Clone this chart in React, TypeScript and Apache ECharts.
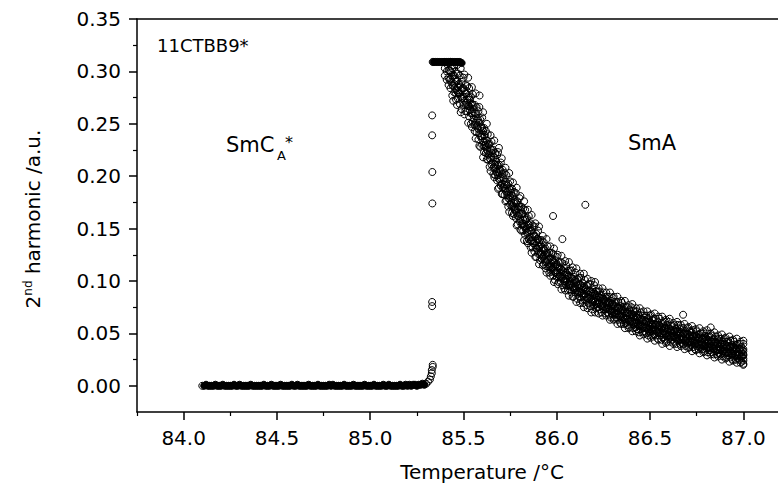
import { useEffect, useRef } from "react";
import * as echarts from "echarts";

// ---------- tick values ----------
const xMajorTicks = [84.0, 84.5, 85.0, 85.5, 86.0, 86.5, 87.0];
const xMinorTicks = [83.75, 84.25, 84.75, 85.25, 85.75, 86.25, 86.75, 87.25];
const yMajorTicks = [0, 0.05, 0.1, 0.15, 0.2, 0.25, 0.3, 0.35];
const yMinorTicks = [0.025, 0.075, 0.125, 0.175, 0.225, 0.275, 0.325];

// ---------- SmCA* phase (flat at zero) ----------
const flatTemps = [
  84.10, 84.11, 84.12, 84.13, 84.14, 84.15, 84.16, 84.17, 84.18, 84.19,
  84.20, 84.21, 84.22, 84.23, 84.24, 84.25, 84.26, 84.27, 84.28, 84.29,
  84.30, 84.31, 84.32, 84.33, 84.34, 84.35, 84.36, 84.37, 84.38, 84.39,
  84.40, 84.41, 84.42, 84.43, 84.44, 84.45, 84.46, 84.47, 84.48, 84.49,
  84.50, 84.51, 84.52, 84.53, 84.54, 84.55, 84.56, 84.57, 84.58, 84.59,
  84.60, 84.61, 84.62, 84.63, 84.64, 84.65, 84.66, 84.67, 84.68, 84.69,
  84.70, 84.71, 84.72, 84.73, 84.74, 84.75, 84.76, 84.77, 84.78, 84.79,
  84.80, 84.81, 84.82, 84.83, 84.84, 84.85, 84.86, 84.87, 84.88, 84.89,
  84.90, 84.91, 84.92, 84.93, 84.94, 84.95, 84.96, 84.97, 84.98, 84.99,
  85.00, 85.01, 85.02, 85.03, 85.04, 85.05, 85.06, 85.07, 85.08, 85.09,
  85.10, 85.11, 85.12, 85.13, 85.14, 85.15, 85.16, 85.17, 85.18, 85.19,
  85.20, 85.21, 85.22, 85.23, 85.24, 85.25, 85.26, 85.27, 85.28, 85.29,
];
const flatValues = [
  0.000, 0.000, 0.001, 0.000, 0.000, 0.000, 0.000, 0.001, 0.000, 0.000,
  0.000, 0.001, 0.000, 0.000, 0.000, 0.000, 0.000, 0.001, 0.000, 0.000,
  0.001, 0.000, 0.000, 0.000, 0.000, 0.000, 0.001, 0.000, 0.000, 0.000,
  0.000, 0.000, 0.000, 0.001, 0.000, 0.000, 0.000, 0.001, 0.000, 0.000,
  0.000, 0.000, 0.001, 0.000, 0.000, 0.000, 0.000, 0.000, 0.001, 0.000,
  0.000, 0.001, 0.000, 0.000, 0.000, 0.000, 0.000, 0.001, 0.000, 0.000,
  0.000, 0.000, 0.001, 0.000, 0.000, 0.000, 0.000, 0.000, 0.001, 0.000,
  0.001, 0.000, 0.000, 0.000, 0.000, 0.000, 0.001, 0.000, 0.000, 0.000,
  0.000, 0.001, 0.000, 0.000, 0.000, 0.000, 0.000, 0.001, 0.000, 0.000,
  0.000, 0.000, 0.001, 0.000, 0.000, 0.000, 0.000, 0.001, 0.000, 0.000,
  0.001, 0.000, 0.000, 0.000, 0.000, 0.000, 0.001, 0.000, 0.000, 0.001,
  0.000, 0.001, 0.000, 0.001, 0.001, 0.000, 0.001, 0.001, 0.002, 0.001,
];

// ---------- transition region ----------
const riseTemps = [85.30, 85.31, 85.32, 85.325, 85.33, 85.33, 85.335, 85.335];
const riseValues = [0.002, 0.004, 0.006, 0.009, 0.012, 0.015, 0.018, 0.020];

const jumpTemps = [85.332, 85.332, 85.333, 85.333, 85.332, 85.332];
const jumpValues = [0.258, 0.239, 0.204, 0.174, 0.080, 0.076];

// ---------- saturated plateau ----------
const satTemps = [
  85.335, 85.34, 85.35, 85.36, 85.37, 85.38, 85.39, 85.40, 85.41, 85.42,
  85.43, 85.44, 85.45, 85.46, 85.47, 85.48, 85.49,
];
const satValues = [
  0.309, 0.309, 0.309, 0.309, 0.309, 0.309, 0.309, 0.309, 0.309, 0.309,
  0.309, 0.309, 0.309, 0.309, 0.309, 0.309, 0.308,
];

// ---------- SmA phase decay: [temperature, readings...] ----------
const smaRows = [
  [85.40, 0.309, 0.303, 0.296], [85.41, 0.307, 0.300, 0.292],
  [85.42, 0.308, 0.301, 0.294, 0.287], [85.43, 0.309, 0.300, 0.293, 0.284],
  [85.44, 0.303, 0.295, 0.287, 0.277], [85.45, 0.306, 0.296, 0.288, 0.280],
  [85.46, 0.298, 0.290, 0.279, 0.273], [85.47, 0.298, 0.285, 0.280, 0.274],
  [85.48, 0.296, 0.287, 0.279, 0.269], [85.49, 0.290, 0.282, 0.274, 0.264],
  [85.50, 0.294, 0.284, 0.276, 0.268], [85.51, 0.287, 0.279, 0.268, 0.262],
  [85.52, 0.286, 0.273, 0.268, 0.262], [85.53, 0.284, 0.275, 0.267, 0.257],
  [85.54, 0.276, 0.268, 0.260, 0.250], [85.55, 0.278, 0.268, 0.260, 0.252],
  [85.56, 0.268, 0.260, 0.249, 0.243], [85.57, 0.266, 0.253, 0.248, 0.242],
  [85.58, 0.262, 0.253, 0.245, 0.235], [85.59, 0.254, 0.246, 0.238, 0.228],
  [85.60, 0.256, 0.246, 0.238, 0.230], [85.61, 0.246, 0.239, 0.229, 0.223],
  [85.62, 0.243, 0.232, 0.228, 0.222], [85.63, 0.240, 0.231, 0.224, 0.216],
  [85.64, 0.231, 0.224, 0.217, 0.209], [85.65, 0.233, 0.225, 0.218, 0.211],
  [85.66, 0.225, 0.218, 0.208, 0.202], [85.67, 0.222, 0.211, 0.207, 0.201],
  [85.68, 0.220, 0.211, 0.204, 0.196], [85.69, 0.211, 0.204, 0.197, 0.189],
  [85.70, 0.213, 0.205, 0.198, 0.191], [85.71, 0.206, 0.199, 0.189, 0.183],
  [85.72, 0.203, 0.192, 0.188, 0.182], [85.73, 0.201, 0.192, 0.185, 0.177],
  [85.74, 0.193, 0.186, 0.179, 0.171], [85.75, 0.195, 0.187, 0.180, 0.173],
  [85.76, 0.188, 0.181, 0.171, 0.165], [85.77, 0.185, 0.174, 0.170, 0.164],
  [85.78, 0.184, 0.175, 0.168, 0.160], [85.79, 0.176, 0.169, 0.162, 0.154],
  [85.80, 0.179, 0.171, 0.164, 0.157], [85.81, 0.171, 0.164, 0.154, 0.148],
  [85.82, 0.169, 0.158, 0.154, 0.148], [85.83, 0.168, 0.159, 0.152, 0.144],
  [85.84, 0.160, 0.153, 0.146, 0.138], [85.85, 0.162, 0.154, 0.147, 0.140],
  [85.86, 0.155, 0.148, 0.138, 0.132], [85.87, 0.153, 0.142, 0.138, 0.132],
  [85.88, 0.152, 0.143, 0.136, 0.128], [85.89, 0.145, 0.138, 0.131, 0.123],
  [85.90, 0.148, 0.140, 0.133, 0.126], [85.91, 0.139, 0.133, 0.125, 0.120],
  [85.92, 0.139, 0.129, 0.125, 0.121], [85.93, 0.137, 0.130, 0.124, 0.116],
  [85.94, 0.131, 0.125, 0.119, 0.112], [85.95, 0.133, 0.126, 0.120, 0.114],
  [85.96, 0.127, 0.121, 0.113, 0.108], [85.97, 0.127, 0.117, 0.113, 0.109],
  [85.98, 0.126, 0.119, 0.113, 0.105], [85.99, 0.120, 0.114, 0.108, 0.101],
  [86.00, 0.123, 0.116, 0.110, 0.104], [86.01, 0.118, 0.112, 0.104, 0.099],
  [86.02, 0.118, 0.108, 0.104, 0.100], [86.03, 0.117, 0.110, 0.104, 0.096],
  [86.04, 0.112, 0.106, 0.100, 0.093], [86.05, 0.115, 0.108, 0.102, 0.096],
  [86.06, 0.110, 0.104, 0.096, 0.091], [86.07, 0.110, 0.100, 0.096, 0.092],
  [86.08, 0.110, 0.103, 0.097, 0.089], [86.09, 0.104, 0.098, 0.092, 0.085],
  [86.10, 0.108, 0.101, 0.095, 0.089], [86.11, 0.102, 0.096, 0.088, 0.083],
  [86.12, 0.103, 0.093, 0.089, 0.085], [86.13, 0.103, 0.096, 0.090, 0.082],
  [86.14, 0.098, 0.092, 0.086, 0.079], [86.15, 0.101, 0.094, 0.088, 0.082],
  [86.16, 0.096, 0.090, 0.082, 0.077], [86.17, 0.097, 0.087, 0.083, 0.079],
  [86.18, 0.097, 0.090, 0.084, 0.076], [86.19, 0.092, 0.086, 0.080, 0.073],
  [86.20, 0.096, 0.089, 0.083, 0.077], [86.21, 0.090, 0.085, 0.078, 0.074],
  [86.22, 0.090, 0.082, 0.079, 0.075], [86.23, 0.090, 0.084, 0.079, 0.073],
  [86.24, 0.086, 0.081, 0.076, 0.070], [86.25, 0.089, 0.083, 0.078, 0.073],
  [86.26, 0.085, 0.080, 0.073, 0.069], [86.27, 0.085, 0.077, 0.074, 0.070],
  [86.28, 0.085, 0.079, 0.074, 0.068], [86.29, 0.081, 0.076, 0.071, 0.065],
  [86.30, 0.084, 0.078, 0.073, 0.068], [86.31, 0.080, 0.075, 0.068, 0.064],
  [86.32, 0.080, 0.072, 0.069, 0.065], [86.33, 0.080, 0.074, 0.069, 0.063],
  [86.34, 0.076, 0.071, 0.066, 0.060], [86.35, 0.079, 0.073, 0.068, 0.063],
  [86.36, 0.075, 0.070, 0.063, 0.059], [86.37, 0.075, 0.067, 0.064, 0.060],
  [86.38, 0.075, 0.069, 0.064, 0.058], [86.39, 0.072, 0.067, 0.061, 0.056],
  [86.40, 0.075, 0.069, 0.064, 0.059], [86.41, 0.071, 0.066, 0.059, 0.055],
  [86.42, 0.071, 0.063, 0.060, 0.056], [86.43, 0.071, 0.065, 0.060, 0.054],
  [86.44, 0.067, 0.062, 0.057, 0.051], [86.45, 0.070, 0.064, 0.059, 0.054],
  [86.46, 0.067, 0.062, 0.055, 0.051], [86.47, 0.067, 0.059, 0.056, 0.052],
  [86.48, 0.067, 0.061, 0.056, 0.050], [86.49, 0.064, 0.058, 0.053, 0.048],
  [86.50, 0.067, 0.061, 0.056, 0.051], [86.51, 0.063, 0.058, 0.052, 0.048],
  [86.52, 0.064, 0.056, 0.053, 0.049], [86.53, 0.064, 0.058, 0.053, 0.048],
  [86.54, 0.061, 0.056, 0.051, 0.045], [86.55, 0.064, 0.058, 0.053, 0.048],
  [86.56, 0.060, 0.055, 0.048, 0.044], [86.57, 0.060, 0.052, 0.050, 0.046],
  [86.58, 0.061, 0.055, 0.050, 0.044], [86.59, 0.058, 0.053, 0.047, 0.042],
  [86.60, 0.061, 0.055, 0.050, 0.045], [86.61, 0.057, 0.052, 0.046, 0.042],
  [86.62, 0.057, 0.050, 0.047, 0.044], [86.63, 0.058, 0.052, 0.048, 0.042],
  [86.64, 0.054, 0.050, 0.045, 0.040], [86.65, 0.058, 0.052, 0.048, 0.043],
  [86.66, 0.054, 0.050, 0.044, 0.040], [86.67, 0.055, 0.047, 0.045, 0.041],
  [86.68, 0.055, 0.050, 0.045, 0.040], [86.69, 0.052, 0.047, 0.043, 0.038],
  [86.70, 0.055, 0.050, 0.045, 0.041], [86.71, 0.052, 0.047, 0.041, 0.037],
  [86.72, 0.052, 0.045, 0.042, 0.039], [86.73, 0.053, 0.047, 0.043, 0.037],
  [86.74, 0.049, 0.045, 0.040, 0.035], [86.75, 0.052, 0.047, 0.043, 0.038],
  [86.76, 0.049, 0.045, 0.038, 0.035], [86.77, 0.050, 0.042, 0.040, 0.036],
  [86.78, 0.050, 0.045, 0.040, 0.035], [86.79, 0.047, 0.042, 0.038, 0.033],
  [86.80, 0.050, 0.045, 0.040, 0.036], [86.81, 0.047, 0.042, 0.036, 0.032],
  [86.82, 0.047, 0.040, 0.037, 0.034], [86.83, 0.048, 0.042, 0.038, 0.032],
  [86.84, 0.044, 0.040, 0.035, 0.030], [86.85, 0.047, 0.042, 0.038, 0.033],
  [86.86, 0.044, 0.040, 0.034, 0.030], [86.87, 0.045, 0.037, 0.035, 0.031],
  [86.88, 0.045, 0.040, 0.035, 0.030], [86.89, 0.042, 0.037, 0.033, 0.028],
  [86.90, 0.045, 0.040, 0.035, 0.031], [86.91, 0.042, 0.037, 0.031, 0.027],
  [86.92, 0.042, 0.035, 0.032, 0.029], [86.93, 0.043, 0.037, 0.033, 0.027],
  [86.94, 0.039, 0.035, 0.030, 0.025], [86.95, 0.042, 0.037, 0.033, 0.028],
  [86.96, 0.039, 0.035, 0.029, 0.025], [86.97, 0.040, 0.032, 0.030, 0.026],
  [86.98, 0.040, 0.035, 0.030, 0.025], [86.99, 0.037, 0.032, 0.028, 0.023],
  [87.00, 0.040, 0.035, 0.030, 0.026], [87.00, 0.033, 0.029, 0.024, 0.021],
];

// ---------- SmA phase, readings between the rows above (dense core) ----------
const smaCoreRows = [
  [85.425, 0.301, 0.292], [85.435, 0.299, 0.290], [85.445, 0.296, 0.286], [85.455, 0.293, 0.284],
  [85.465, 0.291, 0.282], [85.475, 0.288, 0.279], [85.485, 0.285, 0.276], [85.495, 0.284, 0.275],
  [85.505, 0.282, 0.272], [85.515, 0.279, 0.270], [85.525, 0.276, 0.267], [85.535, 0.273, 0.263],
  [85.545, 0.269, 0.260], [85.555, 0.264, 0.255], [85.565, 0.260, 0.251], [85.575, 0.255, 0.246],
  [85.585, 0.251, 0.241], [85.595, 0.247, 0.238], [85.605, 0.243, 0.233], [85.615, 0.239, 0.230],
  [85.625, 0.234, 0.225], [85.635, 0.230, 0.221], [85.645, 0.226, 0.216], [85.655, 0.222, 0.213],
  [85.665, 0.218, 0.209], [85.675, 0.214, 0.204], [85.685, 0.210, 0.201], [85.695, 0.206, 0.197],
  [85.705, 0.202, 0.193], [85.715, 0.198, 0.190], [85.725, 0.195, 0.186], [85.735, 0.191, 0.182],
  [85.745, 0.188, 0.179], [85.755, 0.184, 0.175], [85.765, 0.181, 0.172], [85.775, 0.177, 0.168],
  [85.785, 0.174, 0.165], [85.795, 0.171, 0.162], [85.805, 0.168, 0.159], [85.815, 0.164, 0.155],
  [85.825, 0.161, 0.152], [85.835, 0.158, 0.149], [85.845, 0.154, 0.146], [85.855, 0.151, 0.142],
  [85.865, 0.148, 0.139], [85.875, 0.145, 0.136], [85.885, 0.142, 0.134], [85.895, 0.140, 0.131],
  [85.905, 0.137, 0.128], [85.915, 0.134, 0.126], [85.925, 0.132, 0.123], [85.935, 0.129, 0.121],
  [85.945, 0.127, 0.118], [85.955, 0.124, 0.116], [85.965, 0.122, 0.114], [85.975, 0.120, 0.112],
  [85.985, 0.118, 0.110], [85.995, 0.116, 0.108], [86.005, 0.114, 0.107], [86.015, 0.113, 0.105],
  [86.025, 0.111, 0.103], [86.035, 0.109, 0.102], [86.045, 0.108, 0.100], [86.055, 0.106, 0.099],
  [86.065, 0.105, 0.097], [86.075, 0.103, 0.096], [86.085, 0.102, 0.094], [86.095, 0.100, 0.093],
  [86.105, 0.099, 0.091], [86.115, 0.097, 0.090], [86.125, 0.096, 0.089], [86.135, 0.095, 0.088],
  [86.145, 0.094, 0.087], [86.155, 0.092, 0.085], [86.165, 0.091, 0.084], [86.175, 0.090, 0.083],
  [86.185, 0.089, 0.082], [86.195, 0.088, 0.081], [86.205, 0.087, 0.080], [86.215, 0.086, 0.079],
  [86.225, 0.085, 0.078], [86.235, 0.084, 0.077], [86.245, 0.083, 0.076], [86.255, 0.082, 0.075],
  [86.265, 0.081, 0.074], [86.275, 0.080, 0.073], [86.285, 0.079, 0.072], [86.295, 0.078, 0.071],
  [86.305, 0.077, 0.070], [86.315, 0.076, 0.069], [86.325, 0.075, 0.068], [86.335, 0.074, 0.067],
  [86.345, 0.073, 0.066], [86.355, 0.072, 0.065], [86.365, 0.071, 0.064], [86.375, 0.070, 0.063],
  [86.385, 0.069, 0.063], [86.395, 0.068, 0.062], [86.405, 0.068, 0.061], [86.415, 0.067, 0.060],
  [86.425, 0.066, 0.059], [86.435, 0.065, 0.058], [86.445, 0.064, 0.058], [86.455, 0.063, 0.057],
  [86.465, 0.063, 0.056], [86.475, 0.062, 0.055], [86.485, 0.061, 0.055], [86.495, 0.060, 0.054],
  [86.505, 0.060, 0.054], [86.515, 0.059, 0.053], [86.525, 0.059, 0.053], [86.535, 0.058, 0.052],
  [86.545, 0.058, 0.051], [86.555, 0.057, 0.050], [86.565, 0.056, 0.050], [86.575, 0.055, 0.049],
  [86.585, 0.055, 0.049], [86.595, 0.054, 0.048], [86.605, 0.054, 0.048], [86.615, 0.053, 0.047],
  [86.625, 0.053, 0.047], [86.635, 0.052, 0.046], [86.645, 0.052, 0.045], [86.655, 0.051, 0.045],
  [86.665, 0.051, 0.044], [86.675, 0.050, 0.044], [86.685, 0.050, 0.043], [86.695, 0.049, 0.043],
  [86.705, 0.049, 0.042], [86.715, 0.048, 0.042], [86.725, 0.048, 0.041], [86.735, 0.047, 0.041],
  [86.745, 0.047, 0.040], [86.755, 0.046, 0.040], [86.765, 0.046, 0.039], [86.775, 0.045, 0.039],
  [86.785, 0.045, 0.038], [86.795, 0.044, 0.038], [86.805, 0.044, 0.037], [86.815, 0.043, 0.037],
  [86.825, 0.043, 0.036], [86.835, 0.042, 0.036], [86.845, 0.042, 0.035], [86.855, 0.041, 0.035],
  [86.865, 0.041, 0.034], [86.875, 0.040, 0.034], [86.885, 0.040, 0.033], [86.895, 0.039, 0.033],
  [86.905, 0.039, 0.032], [86.915, 0.038, 0.032], [86.925, 0.038, 0.031], [86.935, 0.037, 0.031],
  [86.945, 0.037, 0.030], [86.955, 0.036, 0.030], [86.965, 0.036, 0.029], [86.975, 0.035, 0.029],
  [86.985, 0.035, 0.028], [86.995, 0.034, 0.028],
];

// ---------- SmA phase, scattered readings at the band's outer edges ----------
const smaEdgeRows = [
  [85.445, 0.272], [85.465, 0.306, 0.268], [85.485, 0.303, 0.261], [85.505, 0.297, 0.259],
  [85.525, 0.294, 0.251], [85.545, 0.285, 0.247], [85.565, 0.279, 0.236], [85.585, 0.266, 0.229],
  [85.605, 0.261, 0.218], [85.625, 0.250, 0.216], [85.645, 0.239, 0.205], [85.665, 0.234, 0.199],
  [85.685, 0.223, 0.188], [85.705, 0.217, 0.183], [85.725, 0.208, 0.176], [85.745, 0.203, 0.166],
  [85.765, 0.194, 0.162], [85.785, 0.189, 0.153], [85.805, 0.181, 0.149], [85.825, 0.176, 0.139],
  [85.845, 0.168, 0.136], [85.865, 0.163, 0.127], [85.885, 0.155, 0.123], [85.905, 0.152, 0.116],
  [85.925, 0.143, 0.115], [85.945, 0.140, 0.108], [85.965, 0.133, 0.105], [85.985, 0.131, 0.099],
  [86.005, 0.125, 0.097], [86.025, 0.124, 0.092], [86.045, 0.119, 0.091], [86.065, 0.118, 0.086],
  [86.085, 0.113, 0.085], [86.105, 0.112, 0.080], [86.125, 0.107, 0.079], [86.145, 0.107, 0.075],
  [86.165, 0.102, 0.074], [86.185, 0.100, 0.070], [86.205, 0.099, 0.070], [86.225, 0.093, 0.069],
  [86.245, 0.093, 0.067], [86.265, 0.089, 0.067], [86.285, 0.089, 0.063], [86.305, 0.085, 0.063],
  [86.325, 0.085, 0.059], [86.345, 0.081, 0.059], [86.365, 0.081, 0.055], [86.385, 0.077, 0.055],
  [86.405, 0.078, 0.052], [86.425, 0.074, 0.052], [86.445, 0.074, 0.048], [86.465, 0.071, 0.049],
  [86.485, 0.071, 0.045], [86.505, 0.068, 0.046], [86.525, 0.069, 0.043], [86.545, 0.066, 0.044],
  [86.565, 0.066, 0.040], [86.585, 0.063, 0.041], [86.605, 0.064, 0.038], [86.625, 0.060, 0.040],
  [86.645, 0.061, 0.037], [86.665, 0.058, 0.038], [86.685, 0.059, 0.035], [86.705, 0.056, 0.036],
  [86.725, 0.057, 0.033], [86.745, 0.054, 0.034], [86.765, 0.055, 0.031], [86.785, 0.052, 0.032],
  [86.805, 0.053, 0.029], [86.825, 0.050, 0.030], [86.845, 0.051, 0.027], [86.865, 0.048, 0.028],
  [86.885, 0.049, 0.025], [86.905, 0.046, 0.026], [86.925, 0.047, 0.023], [86.945, 0.044, 0.024],
  [86.965, 0.045, 0.022], [86.985, 0.042, 0.022], [87.00, 0.043, 0.020],
];

// ---------- isolated outliers in SmA ----------
const outlierTemps = [85.586, 85.69, 85.98, 86.03, 86.153, 86.677, 86.825];
const outlierValues = [0.277, 0.227, 0.162, 0.140, 0.1727, 0.0678, 0.0557];

const FONT = "DejaVu Sans";

function pairs(xs: number[], ys: number[]): number[][] {
  return xs.map((x, i) => [x, ys[i]]);
}

function expandRows(rows: number[][]): number[][] {
  const out: number[][] = [];
  rows.forEach((row) => {
    for (let k = 1; k < row.length; k++) out.push([row[0], row[k]]);
  });
  return out;
}

export default function App() {
  const ref = useRef<HTMLDivElement>(null);

  useEffect(() => {
    if (!ref.current) return;
    const chart = echarts.init(ref.current, undefined, { renderer: "svg" });

    const hollow = {
      color: "rgba(255,255,255,0)",
      borderColor: "#000",
      borderWidth: 1,
      opacity: 1,
    };
    const solid = {
      color: "#000",
      borderColor: "#000",
      borderWidth: 1,
      opacity: 1,
    };
    const whiteFirst = (d: number[][]) =>
      d.map((p, i) =>
        i === 0 ? { value: p, itemStyle: { color: "#fff" } } : { value: p }
      );

    const xMin = 83.75;
    const xMax = 87.25;
    const yMin = -0.025;
    const yMax = 0.35;

    const axisLine = {
      show: true,
      onZero: false,
      lineStyle: { color: "#000", width: 1.5 },
    };
    const base = {
      type: "scatter",
      xAxisIndex: 0,
      yAxisIndex: 0,
      symbol: "circle",
      symbolSize: 7,
      emphasis: { disabled: true },
    };

    chart.setOption({
      animation: false,
      backgroundColor: "#fff",
      grid: {
        left: 137,
        top: 19,
        right: -12,
        bottom: 77,
        outerBoundsMode: "none",
      },
      xAxis: [
        {
          type: "value",
          position: "bottom",
          min: xMin,
          max: xMax,
          axisLine,
          splitLine: { show: false },
          axisTick: {
            show: true,
            customValues: xMajorTicks,
            length: 8,
            lineStyle: { color: "#000", width: 1.5 },
          },
          axisLabel: {
            show: true,
            customValues: xMajorTicks,
            formatter: (v: number) => v.toFixed(1),
            margin: 16,
            fontSize: 20,
            fontFamily: FONT,
            color: "#000",
          },
        },
        {
          type: "value",
          position: "top",
          min: xMin,
          max: xMax,
          axisLine,
          splitLine: { show: false },
          axisTick: { show: false },
          axisLabel: { show: false },
        },
        {
          type: "value",
          position: "bottom",
          min: xMin,
          max: xMax,
          axisLine: { show: false, onZero: false },
          splitLine: { show: false },
          axisTick: {
            show: true,
            customValues: xMinorTicks,
            length: 4,
            lineStyle: { color: "#000", width: 1.2 },
          },
          axisLabel: { show: false },
        },
      ],
      yAxis: [
        {
          type: "value",
          position: "left",
          min: yMin,
          max: yMax,
          axisLine,
          splitLine: { show: false },
          axisTick: {
            show: true,
            customValues: yMajorTicks,
            length: 8,
            lineStyle: { color: "#000", width: 1.5 },
          },
          axisLabel: {
            show: true,
            customValues: yMajorTicks,
            formatter: (v: number) => v.toFixed(2),
            margin: 16,
            fontSize: 20,
            fontFamily: FONT,
            color: "#000",
          },
        },
        {
          type: "value",
          position: "left",
          min: yMin,
          max: yMax,
          axisLine: { show: false, onZero: false },
          splitLine: { show: false },
          axisTick: {
            show: true,
            customValues: yMinorTicks,
            length: 4,
            lineStyle: { color: "#000", width: 1.2 },
          },
          axisLabel: { show: false },
        },
      ],
      series: [
        { ...base, name: "SmCA", itemStyle: solid, data: whiteFirst(pairs(flatTemps, flatValues)) },
        { ...base, name: "rise", itemStyle: hollow, data: pairs(riseTemps, riseValues) },
        { ...base, name: "jump", itemStyle: hollow, data: pairs(jumpTemps, jumpValues) },
        { ...base, name: "SmA edge", itemStyle: hollow, data: expandRows(smaEdgeRows) },
        { ...base, name: "SmA", itemStyle: hollow, data: expandRows(smaRows) },
        { ...base, name: "SmA core", itemStyle: hollow, data: expandRows(smaCoreRows) },
        { ...base, name: "plateau", itemStyle: solid, data: whiteFirst(pairs(satTemps, satValues)) },
        { ...base, name: "outliers", itemStyle: hollow, data: pairs(outlierTemps, outlierValues) },
      ],
      graphic: [
        {
          type: "text",
          x: 33,
          y: 219,
          rotation: Math.PI / 2,
          style: {
            text: "{a|2}{b|nd}{a| harmonic /a.u.}",
            align: "center",
            verticalAlign: "middle",
            fill: "#000",
            rich: {
              a: { fontSize: 20, fontFamily: FONT, fill: "#000", lineHeight: 22 },
              b: { fontSize: 12, fontFamily: FONT, fill: "#000", verticalAlign: "top", lineHeight: 12 },
            },
          },
        },
        {
          type: "text",
          x: 482,
          y: 472,
          style: {
            text: "Temperature /°C",
            align: "center",
            verticalAlign: "middle",
            fontSize: 20,
            fontFamily: FONT,
            fill: "#000",
          },
        },
        {
          type: "text",
          x: 157,
          y: 45,
          style: {
            text: "11CTBB9*",
            align: "left",
            verticalAlign: "middle",
            fontSize: 18,
            fontFamily: FONT,
            fill: "#000",
          },
        },
        {
          type: "text",
          x: 226,
          y: 145,
          style: {
            text: "SmC",
            align: "left",
            verticalAlign: "middle",
            fontSize: 21,
            fontFamily: FONT,
            fill: "#000",
          },
        },
        {
          type: "text",
          x: 277,
          y: 155,
          style: {
            text: "A",
            align: "left",
            verticalAlign: "middle",
            fontSize: 13,
            fontFamily: FONT,
            fill: "#000",
          },
        },
        {
          type: "text",
          x: 285,
          y: 142,
          style: {
            text: "*",
            align: "left",
            verticalAlign: "middle",
            fontSize: 16,
            fontFamily: FONT,
            fill: "#000",
          },
        },
        {
          type: "text",
          x: 628,
          y: 143,
          style: {
            text: "SmA",
            align: "left",
            verticalAlign: "middle",
            fontSize: 21,
            fontFamily: FONT,
            fill: "#000",
          },
        },
      ],
    });

    return () => chart.dispose();
  }, []);

  return (
    <div
      ref={ref}
      style={{ position: "fixed", left: 0, top: 0, width: 778, height: 489 }}
    />
  );
}
